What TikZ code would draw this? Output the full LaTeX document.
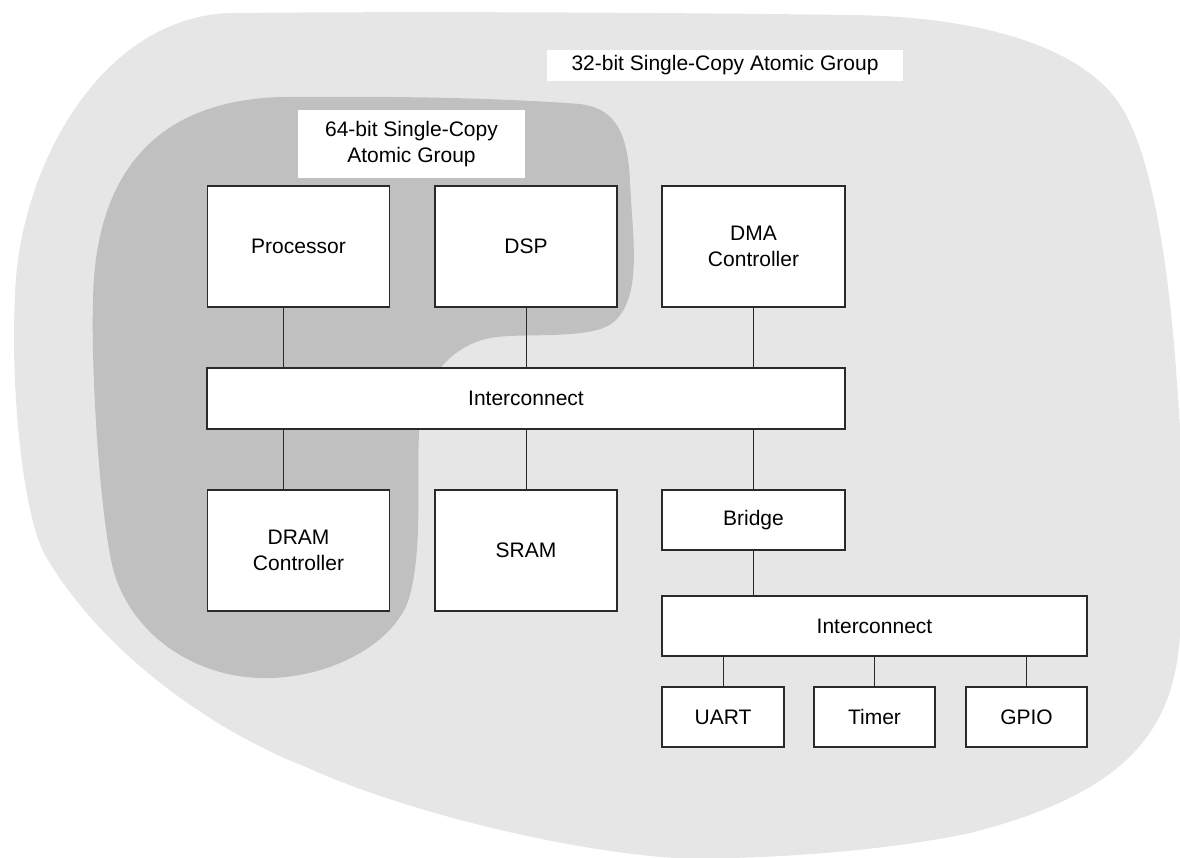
\documentclass[tikz,border=0pt]{standalone}
\usepackage{fontspec}
\setmainfont{Liberation Sans}
\definecolor{outerg}{HTML}{E6E6E6}
\definecolor{innerg}{HTML}{C0C0C0}
\definecolor{edge}{HTML}{2A2A2A}
\begin{document}
\begin{tikzpicture}[x=1pt,y=-1pt,
  blk/.style={draw=edge,line width=1.3pt,fill=white,inner sep=0pt,align=center,
    font=\fontsize{21}{25.5}\selectfont},
  lbl/.style={fill=white,inner sep=0pt,align=center,font=\fontsize{21}{25.5}\selectfont},
  wire/.style={draw=edge,line width=1.2pt}]
\useasboundingbox (0,0) rectangle (1180,858);
% outer group
\fill[outerg] (233,13)
  .. controls (450,11) and (700,13) .. (850,15)
  .. controls (1010,17) and (1100,60) .. (1127,117)
  .. controls (1155,170) and (1170,280) .. (1177,383)
  .. controls (1182,450) and (1188,560) .. (1180,633)
  .. controls (1175,735) and (1120,795) .. (970,833)
  .. controls (880,852) and (760,860) .. (674,858)
  .. controls (560,850) and (400,810) .. (306,767)
  .. controls (210,730) and (100,650) .. (45,555)
  .. controls (25,520) and (10,400) .. (15,297)
  .. controls (18,170) and (100,15) .. (233,13) -- cycle;
% inner group
\fill[innerg] (93,300)
  .. controls (95,180) and (150,100) .. (283,97)
  .. controls (400,96) and (500,98) .. (580,104)
  .. controls (610,108) and (628,125) .. (630,183)
  .. controls (633,240) and (642,295) .. (615,321)
  .. controls (595,340) and (530,333) .. (497,337)
  .. controls (460,341) and (425,370) .. (420,420)
  .. controls (415,470) and (424,540) .. (410,595)
  .. controls (398,642) and (330,680) .. (260,678)
  .. controls (190,676) and (125,630) .. (111,560)
  .. controls (100,505) and (91,380) .. (93,300) -- cycle;
% labels
\node[lbl,minimum width=356pt,minimum height=31pt] (l32) at (725,65.5) {32-bit Single-Copy Atomic Group};
\node[lbl,minimum width=227pt,minimum height=68pt] (l64) at (411.5,144) {64-bit Single-Copy\\Atomic Group};
% blocks
\node[blk,minimum width=182pt,minimum height=121pt] (proc) at (298.5,246.5) {Processor};
\node[blk,minimum width=182pt,minimum height=121pt] (dsp) at (526,246.5) {DSP};
\node[blk,minimum width=183pt,minimum height=121pt] (dma) at (753.5,246.5) {DMA\\Controller};
\node[blk,minimum width=638pt,minimum height=61pt] (ic1) at (526,398.5) {Interconnect};
\node[blk,minimum width=182pt,minimum height=121pt] (dram) at (298.5,550.5) {DRAM\\Controller};
\node[blk,minimum width=182pt,minimum height=121pt] (sram) at (526,550.5) {SRAM};
\node[blk,minimum width=183pt,minimum height=60pt] (bridge) at (753.5,520) {Bridge};
\node[blk,minimum width=425pt,minimum height=60pt] (ic2) at (874.5,626) {Interconnect};
\node[blk,minimum width=122pt,minimum height=60pt] (uart) at (723,717) {UART};
\node[blk,minimum width=121pt,minimum height=60pt] (timer) at (874.5,717) {Timer};
\node[blk,minimum width=121pt,minimum height=60pt] (gpio) at (1026.5,717) {GPIO};
% connectors
\draw[wire] ([xshift=-15pt]proc.south) -- ([xshift=-15pt]proc.south |- ic1.north);
\draw[wire] ([xshift=0.5pt]dsp.south) -- ([xshift=0.5pt]dsp.south |- ic1.north);
\draw[wire] (dma.south) -- (dma.south |- ic1.north);
\draw[wire] ([xshift=-15pt]dram.north |- ic1.south) -- ([xshift=-15pt]dram.north);
\draw[wire] ([xshift=0.5pt]sram.north |- ic1.south) -- ([xshift=0.5pt]sram.north);
\draw[wire] (bridge.north |- ic1.south) -- (bridge.north);
\draw[wire] (bridge.south) -- (bridge.south |- ic2.north);
\draw[wire] ([xshift=0.5pt]uart.north |- ic2.south) -- ([xshift=0.5pt]uart.north);
\draw[wire] (timer.north |- ic2.south) -- (timer.north);
\draw[wire] (gpio.north |- ic2.south) -- (gpio.north);
\end{tikzpicture}
\end{document}
